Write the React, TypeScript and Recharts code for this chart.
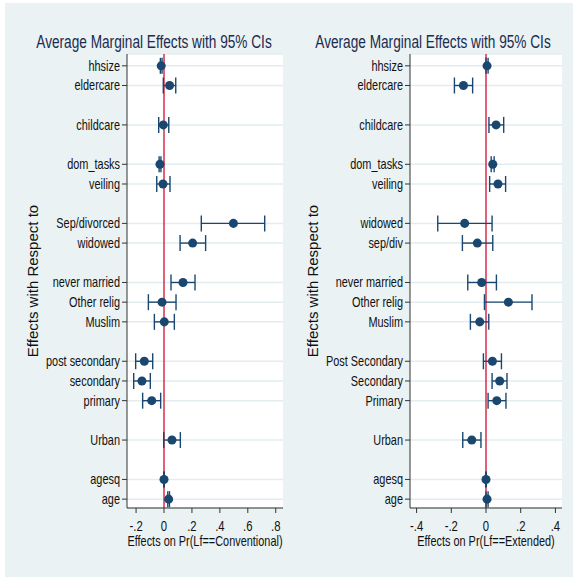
import { ScatterChart, Scatter, XAxis, YAxis, ZAxis, CartesianGrid, ReferenceLine, ErrorBar } from "recharts";

// row slots (gaps between variable groups)
const rowPos = [0, 1, 3, 5, 6, 8, 9, 11, 12, 13, 15, 16, 17, 19, 21, 22];

const labelsConv = ["hhsize", "eldercare", "childcare", "dom_tasks", "veiling", "Sep/divorced", "widowed", "never married", "Other relig", "Muslim", "post secondary", "secondary", "primary", "Urban", "agesq", "age"];
const estConv = [-0.02, 0.04, -0.005, -0.029, -0.007, 0.497, 0.205, 0.136, -0.014, 0.002, -0.141, -0.158, -0.088, 0.057, 0.0, 0.033];
const loConv = [-0.026, -0.005, -0.038, -0.035, -0.052, 0.267, 0.115, 0.05, -0.112, -0.069, -0.203, -0.217, -0.153, -0.002, -0.002, 0.027];
const hiConv = [-0.014, 0.084, 0.034, -0.022, 0.043, 0.721, 0.298, 0.222, 0.086, 0.074, -0.081, -0.098, -0.024, 0.117, 0.002, 0.039];

const labelsExt = ["hhsize", "eldercare", "childcare", "dom_tasks", "veiling", "widowed", "sep/div", "never married", "Other relig", "Muslim", "Post Secondary", "Secondary", "Primary", "Urban", "agesq", "age"];
const estExt = [0.006, -0.13, 0.058, 0.039, 0.069, -0.123, -0.05, -0.025, 0.129, -0.036, 0.037, 0.079, 0.062, -0.082, 0.0, 0.006];
const loExt = [0.0, -0.182, 0.017, 0.03, 0.021, -0.278, -0.136, -0.105, -0.009, -0.09, -0.015, 0.035, 0.012, -0.134, -0.002, 0.0];
const hiExt = [0.012, -0.077, 0.102, 0.047, 0.113, 0.035, 0.039, 0.06, 0.265, 0.016, 0.089, 0.121, 0.115, -0.029, 0.002, 0.012];

const ticksConv = [-0.2, 0, 0.2, 0.4, 0.6, 0.8];
const ticksExt = [-0.4, -0.2, 0, 0.2, 0.4];

const NAVY = "#1a476f";
const SANS = "'Liberation Sans', Arial, Helvetica, sans-serif";
const SQUEEZE = 0.78; // the stata fonts are narrow, no narrow face installed

const fmtX = (v: number) => (v === 0 ? "0" : (v < 0 ? "-" : "") + String(Math.abs(v)).replace(/^0/, ""));

// narrow text drawn at (x, y)
function NarrowText({ x, y, anchor, dy, size, children }: any) {
  return (
    <g transform={`translate(${x},${y}) scale(${SQUEEZE},1)`}>
      <text x={0} y={0} dy={dy} textAnchor={anchor} fill="#111" fontSize={size} fontFamily={SANS}>
        {children}
      </text>
    </g>
  );
}

function Panel(props: any) {
  const { labels, est, lo, hi, xDomain, xTicks, xTitle, width, marginRight, yWidth, yTitleX } = props;
  const data = labels.map((name: string, i: number) => ({
    name,
    pos: rowPos[i],
    est: est[i],
    err: [est[i] - lo[i], hi[i] - est[i]],
  }));
  const labelAt = (p: number) => labels[rowPos.indexOf(p)] ?? "";
  return (
    <ScatterChart width={width} height={577} margin={{ top: 54, right: marginRight, left: 0, bottom: 0 }}>
      <CartesianGrid vertical={false} stroke="#e3ecef" strokeWidth={1.5} fill="#ffffff" />
      <XAxis
        type="number"
        dataKey="est"
        domain={xDomain}
        ticks={xTicks}
        height={69}
        tickSize={5}
        tickMargin={8}
        stroke="#333"
        tick={(p: any) => (
          <NarrowText x={p.x} y={p.y} anchor="middle" dy="0.71em" size={14.5}>
            {fmtX(p.payload.value)}
          </NarrowText>
        )}
        label={{
          content: ({ viewBox }: any) => (
            <NarrowText x={viewBox.x + viewBox.width / 2} y={viewBox.y + 38} anchor="middle" size={14}>
              {xTitle}
            </NarrowText>
          ),
        }}
      />
      <YAxis
        type="number"
        dataKey="pos"
        domain={[-0.6, 22.45]}
        reversed
        ticks={rowPos}
        width={yWidth}
        tickSize={5}
        tickMargin={2}
        stroke="#333"
        interval={0}
        tick={(p: any) => (
          <NarrowText x={p.x} y={p.y} anchor="end" dy="0.355em" size={14}>
            {labelAt(p.payload.value)}
          </NarrowText>
        )}
        label={{
          content: ({ viewBox }: any) => (
            <text
              x={yTitleX}
              y={viewBox.y + viewBox.height / 2}
              textAnchor="middle"
              dominantBaseline="central"
              transform={`rotate(-90 ${yTitleX} ${viewBox.y + viewBox.height / 2})`}
              fill="#111"
              fontSize={15}
              fontFamily={SANS}
            >
              Effects with Respect to
            </text>
          ),
        }}
      />
      <ZAxis type="number" range={[42, 42]} />
      <ReferenceLine x={0} stroke="#d62d4f" strokeWidth={1.5} />
      <Scatter data={data} fill={NAVY} isAnimationActive={false}>
        <ErrorBar dataKey="err" direction="x" width={8} stroke={NAVY} strokeWidth={1.4} />
      </Scatter>
    </ScatterChart>
  );
}

const titleStyle = (center: number): any => ({
  position: "absolute",
  top: 34,
  left: center - 160,
  width: 320,
  textAlign: "center",
  fontFamily: SANS,
  fontSize: 17.5,
  lineHeight: "17.5px",
  color: "#1c2b4f",
  whiteSpace: "nowrap",
  transform: `scaleX(${SQUEEZE})`,
  transformOrigin: "50% 50%",
});

export default function App() {
  return (
    <div style={{ position: "absolute", left: 0, top: 0, width: 575, height: 577, background: "#fff", overflow: "hidden" }}>
      <div style={{ position: "absolute", left: 5, top: 3, width: 568, height: 574, background: "#eaf2f3" }} />
      <div style={{ position: "absolute", left: 0, top: 0 }}>
        <Panel labels={labelsConv} est={estConv} lo={loConv} hi={hiConv} xDomain={[-0.265, 0.852]} xTicks={ticksConv}
          xTitle="Effects on Pr(Lf==Conventional)" width={287} marginRight={4} yWidth={127} yTitleX={32} />
      </div>
      <div style={{ position: "absolute", left: 287, top: 0 }}>
        <Panel labels={labelsExt} est={estExt} lo={loExt} hi={hiExt} xDomain={[-0.438, 0.438]} xTicks={ticksExt}
          xTitle="Effects on Pr(Lf==Extended)" width={288} marginRight={13} yWidth={123} yTitleX={25} />
      </div>
      <div style={titleStyle(154)}>Average Marginal Effects with 95% CIs</div>
      <div style={titleStyle(433)}>Average Marginal Effects with 95% CIs</div>
    </div>
  );
}
